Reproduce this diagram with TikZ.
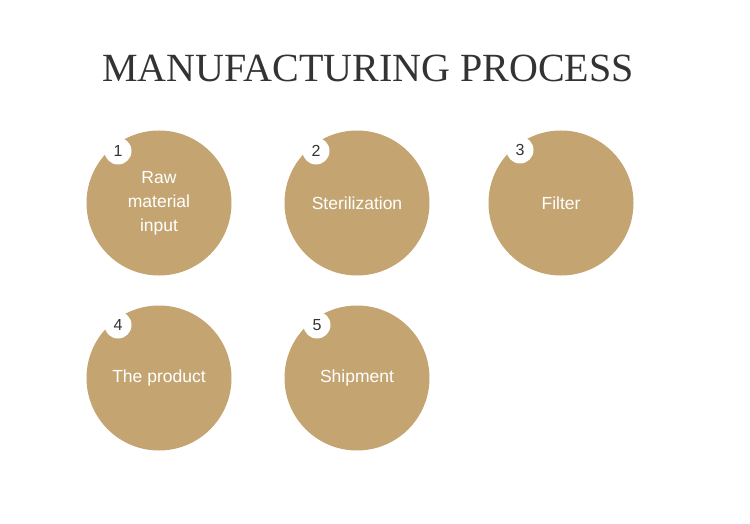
\documentclass[tikz,border=0pt]{standalone}
\usepackage{fontspec}
\setmainfont{Liberation Serif}
\setsansfont{Liberation Sans}
\definecolor{tan}{HTML}{C4A572}
\definecolor{titlegray}{HTML}{333333}
\definecolor{numgray}{HTML}{333333}
\begin{document}
\begin{tikzpicture}[x=1pt,y=-1pt,
  stepcircle/.style={circle,fill=tan,minimum size=145pt,inner sep=0pt,text=white,
    font=\sffamily\fontsize{17.5}{24}\selectfont,align=center},
  numcircle/.style={circle,fill=white,minimum size=27pt,inner sep=0pt,text=numgray,
    font=\sffamily\fontsize{16}{18}\selectfont}]
\fill[white] (0,0) rectangle (750,524);
\useasboundingbox (0,0) rectangle (750,524);
\node[text=titlegray,font=\rmfamily\fontsize{40}{44}\selectfont] (title) at (368,68) {MANUFACTURING PROCESS};
\node[stepcircle] (s1) at (159,203) {Raw\\material\\input};
\node[stepcircle] (s2) at (357,203) {Sterilization};
\node[stepcircle] (s3) at (561,203) {Filter};
\node[stepcircle] (s4) at (159,378) {The product};
\node[stepcircle] (s5) at (357,378) {Shipment};
\node[numcircle] (n1) at (118,151) {1};
\node[numcircle] (n2) at (316,151) {2};
\node[numcircle] (n3) at (520,150) {3};
\node[numcircle] (n4) at (118,325) {4};
\node[numcircle] (n5) at (317,325) {5};
\end{tikzpicture}
\end{document}
